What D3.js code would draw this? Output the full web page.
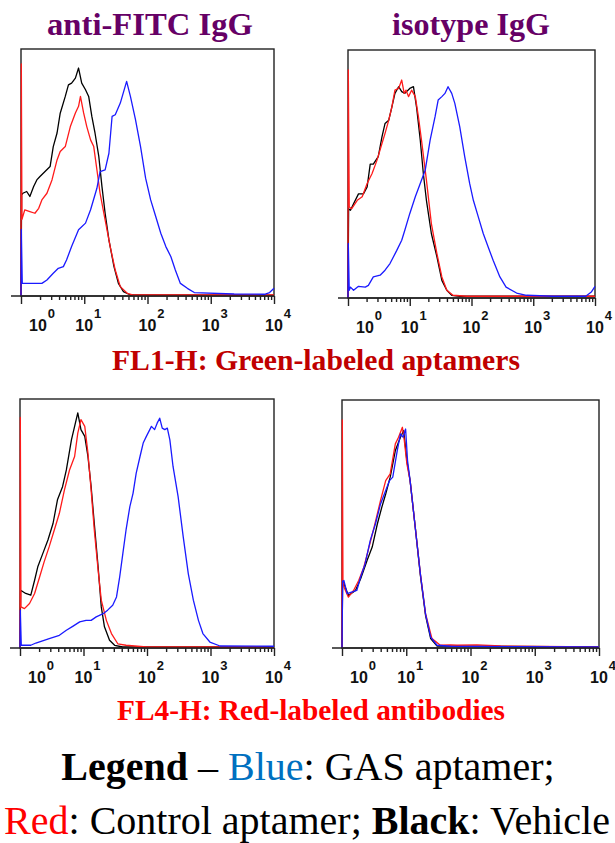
<!DOCTYPE html>
<html>
<head>
<meta charset="utf-8">
<script src="https://cdn.jsdelivr.net/npm/d3@7"></script>
<style>
  body { margin: 0; background: #fff; }
  svg { display: block; }
</style>
</head>
<body>
<svg id="bg" width="615" height="843"></svg>
<script>
// histogram traces: [log10 fluorescence, % of max counts]
var fitcFL1Black = [[0,0],[0.01,41],[0.03,41.6],[0.09,42.3],[0.14,40.3],[0.2,44.3],[0.25,47],[0.3,48.4],[0.38,50.4],[0.46,52.4],[0.51,60.5],[0.57,66],[0.62,74],[0.7,80.8],[0.75,85.5],[0.8,86.2],[0.86,88.2],[0.91,92.3],[0.96,86.2],[1.02,83.5],[1.07,80.8],[1.12,72.7],[1.17,66],[1.23,56.5],[1.28,44.3],[1.33,33.5],[1.39,22.7],[1.47,11.9],[1.54,5.1],[1.62,1.8],[1.73,0.4],[4,0.3]];
var fitcFL1Red = [[0,0],[0.005,94],[0.015,31],[0.06,34.9],[0.14,34.2],[0.22,33.5],[0.28,35.5],[0.33,38.9],[0.41,41.6],[0.49,47],[0.57,55.1],[0.62,58.5],[0.7,60.5],[0.78,68.6],[0.86,74.1],[0.91,76.8],[0.94,80.8],[0.99,74.1],[1.04,68.6],[1.1,63.2],[1.15,60.5],[1.2,51.1],[1.25,41.6],[1.33,30.8],[1.41,20],[1.49,10.5],[1.57,3.8],[1.68,1.1],[1.78,0.4],[4,0.4]];
var fitcFL1Blue = [[0,0],[0.005,27],[0.02,5.1],[0.06,5.1],[0.33,5.1],[0.41,6.5],[0.51,9.2],[0.59,11.2],[0.67,11.9],[0.72,14.6],[0.8,20],[0.91,26.8],[1.02,29.5],[1.1,34.9],[1.2,43.6],[1.25,50.4],[1.33,51.1],[1.39,57.8],[1.44,72.7],[1.49,73.4],[1.57,78.1],[1.67,86.9],[1.73,80.8],[1.81,71.4],[1.89,60.5],[1.97,47.7],[2.05,38.9],[2.13,32.2],[2.21,25.4],[2.29,20],[2.37,15.9],[2.44,10.5],[2.52,5.1],[2.63,3.1],[2.74,1.4],[3.37,0.8],[3.85,0.7],[3.93,1.4],[4,3.1]];

var isoFL1Black = [[0,0],[0.01,36],[0.04,35.4],[0.09,38],[0.17,42],[0.25,42],[0.31,44.8],[0.36,54],[0.41,54],[0.49,57],[0.55,65],[0.6,70.4],[0.66,71.7],[0.71,77],[0.76,82.5],[0.82,85.2],[0.87,83.2],[0.92,82.5],[1,84.5],[1.06,85.2],[1.11,77],[1.17,63.7],[1.22,50.2],[1.27,39.4],[1.35,26],[1.44,16.6],[1.52,7.1],[1.6,3.1],[1.68,1.1],[1.81,0.7],[4,0.7]];
var isoFL1Red = [[0,0],[0.005,92],[0.02,36.7],[0.06,36],[0.15,39.4],[0.23,40.8],[0.31,46.2],[0.39,50.2],[0.47,55.6],[0.55,62.3],[0.6,66.4],[0.66,71.7],[0.71,77],[0.76,83.8],[0.82,84.5],[0.87,87.9],[0.91,82.5],[0.94,83.8],[0.98,81.2],[1.03,83.8],[1.09,81.2],[1.14,73.1],[1.19,63.7],[1.27,47.5],[1.35,30],[1.44,17.9],[1.52,8.5],[1.6,3.1],[1.7,1.1],[1.92,0.7],[4,0.7]];
var isoFL1Blue = [[0,0],[0.005,22],[0.02,3.1],[0.04,4.4],[0.09,3.1],[0.17,4.7],[0.28,4.4],[0.33,5.1],[0.41,8.5],[0.52,9.2],[0.6,11.2],[0.68,13.9],[0.79,19.2],[0.87,23.3],[0.92,27.3],[1,34],[1.09,40.8],[1.17,46.2],[1.25,51.5],[1.33,63.7],[1.41,73.1],[1.46,79.8],[1.52,81.2],[1.57,82.5],[1.62,85.2],[1.68,82.5],[1.73,78.5],[1.81,69],[1.89,57],[1.97,46.2],[2.03,39.4],[2.11,32.7],[2.19,26],[2.27,20.6],[2.35,15.2],[2.46,8.5],[2.56,4.4],[2.73,2],[2.89,1.1],[3.32,0.7],[3.85,0.7],[3.94,2.4],[4,4.7]];

var fitcFL4Black = [[0,0],[0.01,23.2],[0.09,21.9],[0.17,21.2],[0.23,27.2],[0.28,32.6],[0.36,38],[0.44,43.4],[0.52,50],[0.59,59.5],[0.67,64.8],[0.73,71.5],[0.81,83.6],[0.86,89],[0.91,94.4],[0.96,87.7],[1.02,85],[1.07,76.9],[1.12,64.8],[1.17,50],[1.23,32.6],[1.28,16.5],[1.33,8.5],[1.41,3.1],[1.49,1.1],[1.62,0.4],[4,0.4]];
var fitcFL4Red = [[0,0],[0.005,92.6],[0.015,16.5],[0.07,15.8],[0.15,17.9],[0.23,21.9],[0.31,28.6],[0.38,34.6],[0.46,40.7],[0.54,47.4],[0.62,54.1],[0.7,63.5],[0.78,71.5],[0.86,76.9],[0.91,86.3],[0.96,91.7],[1.02,89],[1.07,78.3],[1.12,63.5],[1.17,47.4],[1.23,31.3],[1.28,19.2],[1.36,11.1],[1.44,5.8],[1.54,1.7],[1.67,1.1],[1.99,0.4],[4,0.4]];
var fitcFL4Blue = [[0,0],[0.005,15.2],[0.02,1.1],[0.07,1.1],[0.17,1.1],[0.25,2],[0.46,3.8],[0.62,5.1],[0.73,7.1],[0.83,8.7],[0.94,10.5],[1.04,11.1],[1.12,11.1],[1.2,12.5],[1.31,13.8],[1.38,15.2],[1.46,17.2],[1.52,20.5],[1.57,28.6],[1.62,38],[1.67,47.4],[1.73,56.8],[1.78,62.1],[1.83,70.2],[1.89,76.9],[1.94,82.3],[1.99,85],[2.07,89],[2.12,87.7],[2.16,90.3],[2.2,92.3],[2.24,88.3],[2.28,87.7],[2.32,88.3],[2.36,83.6],[2.41,72.9],[2.49,60.8],[2.57,44.7],[2.65,29.9],[2.73,19.2],[2.81,11.1],[2.88,5.8],[2.99,2.4],[3.15,0.8],[4,0.7]];

var isoFL4Black = [[0,0],[0.01,27],[0.03,25.9],[0.1,21.2],[0.21,23.2],[0.29,27.9],[0.39,35.3],[0.47,40.7],[0.55,50],[0.62,56.8],[0.68,62.1],[0.75,68.9],[0.83,79.6],[0.91,85],[0.96,87.7],[1.01,75.6],[1.06,67.5],[1.14,48.7],[1.22,29.3],[1.3,13.2],[1.38,3.8],[1.48,0.8],[4,0.4]];
var isoFL4Red = [[0,0],[0.005,92],[0.015,27],[0.03,24.6],[0.1,20.5],[0.18,23.2],[0.26,27.2],[0.34,32.6],[0.42,40.7],[0.5,48.7],[0.6,59.5],[0.68,67.5],[0.75,70.2],[0.83,82.3],[0.88,85],[0.94,89],[0.97,83.6],[1.01,74.2],[1.06,67.5],[1.14,48.7],[1.22,29.9],[1.3,13.8],[1.4,3.8],[1.53,1.1],[1.69,1.3],[1.79,1.1],[2.1,1.3],[2.47,0.8],[4,0.4]];
var isoFL4Blue = [[0,0],[0.01,27],[0.03,27.2],[0.08,21.9],[0.16,22.6],[0.23,23.2],[0.29,28.6],[0.36,34],[0.44,43.4],[0.52,50],[0.6,58.1],[0.68,63.5],[0.74,67.5],[0.79,68.9],[0.86,79.6],[0.91,86.3],[0.95,85],[0.99,88.3],[1.02,75.6],[1.06,67.5],[1.14,48.7],[1.22,29.9],[1.3,13.8],[1.38,4.4],[1.48,1.1],[1.69,0.7],[4,0.4]];

var decades = [0, 1, 2, 3, 4];
var columnTitles = ['anti-FITC IgG', 'isotype IgG'];
var rowTitles = ['FL1-H: Green-labeled aptamers', 'FL4-H: Red-labeled antibodies'];

var svg = d3.select('#bg');

var panels = [
  {x0: 21, x1: 274, y0: 49, y1: 296, series: [fitcFL1Black, fitcFL1Red, fitcFL1Blue]},
  {x0: 348, x1: 595, y0: 50, y1: 298, series: [isoFL1Black, isoFL1Red, isoFL1Blue]},
  {x0: 20, x1: 274, y0: 399, y1: 648, series: [fitcFL4Black, fitcFL4Red, fitcFL4Blue]},
  {x0: 342, x1: 599, y0: 400, y1: 648, series: [isoFL4Black, isoFL4Red, isoFL4Blue]}
];
var colors = ['#000000', '#ff1a1a', '#1a1aff'];

panels.forEach(function(p) {
  var g = svg.append('g');
  var xScale = d3.scaleLog().domain([1, 1e4]).range([p.x0, p.x1]);
  var yScale = d3.scaleLinear().domain([0, 100]).range([p.y1, p.y0]);

  // frame
  g.append('rect')
    .attr('x', p.x0).attr('y', p.y0)
    .attr('width', p.x1 - p.x0).attr('height', p.y1 - p.y0)
    .attr('fill', 'none').attr('stroke', '#222').attr('stroke-width', 1.4);

  // curves
  var line = d3.line()
    .x(function(d) { return xScale(Math.pow(10, d[0])); })
    .y(function(d) { return yScale(d[1]); });
  p.series.forEach(function(s, i) {
    g.append('path')
      .datum(s)
      .attr('fill', 'none')
      .attr('stroke', colors[i])
      .attr('stroke-width', 1.3)
      .attr('stroke-linejoin', 'round')
      .attr('d', line);
  });

  // axis baseline, runs a bit left of the frame
  g.append('line')
    .attr('x1', p.x0 - 10).attr('x2', p.x1)
    .attr('y1', p.y1).attr('y2', p.y1)
    .attr('stroke', '#222').attr('stroke-width', 1.4);

  var minor = xScale.ticks().filter(function(v) {
    return Math.abs(Math.log10(v) - Math.round(Math.log10(v))) > 1e-6;
  });
  var major = decades.map(function(d) { return Math.pow(10, d); });

  var axMinor = g.append('g')
    .attr('transform', 'translate(0,' + p.y1 + ')')
    .call(d3.axisBottom(xScale).tickValues(minor).tickSize(4).tickFormat(''));
  var axMajor = g.append('g')
    .attr('transform', 'translate(0,' + p.y1 + ')')
    .call(d3.axisBottom(xScale).tickValues(major).tickSize(8).tickFormat(''));
  [axMinor, axMajor].forEach(function(a) {
    a.select('.domain').remove();
    a.selectAll('line').attr('stroke', '#222').attr('stroke-width', 1.4);
  });

  // decade labels 10^n ("10" centred on the tick, first one pushed right)
  decades.forEach(function(d) {
    var tx = xScale(Math.pow(10, d)) + (d === 0 ? 17 : 0) - 9;
    var t = g.append('text')
      .attr('x', tx)
      .attr('y', p.y1 + 35)
      .attr('font-family', 'Liberation Sans, Arial, sans-serif')
      .attr('font-weight', 'bold')
      .attr('font-size', 16)
      .attr('fill', '#111');
    t.append('tspan').text('10');
    t.append('tspan')
      .attr('dx', 1).attr('dy', -13)
      .attr('font-size', 13)
      .text(d);
  });
});

// column titles
var titleX = [150, 471];
var titleW = [206, 158];
columnTitles.forEach(function(t, i) {
  svg.append('text')
    .attr('x', titleX[i]).attr('y', 35)
    .attr('text-anchor', 'middle')
    .attr('font-family', 'Liberation Serif, Times New Roman, serif')
    .attr('font-weight', 'bold')
    .attr('font-size', 31)
    .attr('fill', '#660066')
    .attr('textLength', titleW[i])
    .attr('lengthAdjust', 'spacingAndGlyphs')
    .text(t);
});

// row captions
svg.append('text')
  .attr('x', 316).attr('y', 370)
  .attr('text-anchor', 'middle')
  .attr('font-family', 'Liberation Serif, Times New Roman, serif')
  .attr('font-weight', 'bold')
  .attr('font-size', 30)
  .attr('fill', '#c00000')
  .attr('textLength', 408)
  .attr('lengthAdjust', 'spacingAndGlyphs')
  .text(rowTitles[0]);

svg.append('text')
  .attr('x', 311).attr('y', 720)
  .attr('text-anchor', 'middle')
  .attr('font-family', 'Liberation Serif, Times New Roman, serif')
  .attr('font-weight', 'bold')
  .attr('font-size', 30)
  .attr('fill', '#ff0000')
  .attr('textLength', 388)
  .attr('lengthAdjust', 'spacingAndGlyphs')
  .text(rowTitles[1]);

// legend
var leg1 = svg.append('text')
  .attr('x', 308).attr('y', 780)
  .attr('text-anchor', 'middle')
  .attr('font-family', 'Liberation Serif, Times New Roman, serif')
  .attr('font-size', 40)
  .attr('fill', '#000');
leg1.append('tspan').attr('font-weight', 'bold').text('Legend');
leg1.append('tspan').text(' \u2013 ');
leg1.append('tspan').attr('fill', '#0070c0').text('Blue');
leg1.append('tspan').text(': GAS aptamer;');

var leg2 = svg.append('text')
  .attr('x', 307).attr('y', 834)
  .attr('text-anchor', 'middle')
  .attr('font-family', 'Liberation Serif, Times New Roman, serif')
  .attr('font-size', 40)
  .attr('fill', '#000');
leg2.append('tspan').attr('fill', '#ff0000').text('Red');
leg2.append('tspan').text(': Control aptamer; ');
leg2.append('tspan').attr('font-weight', 'bold').text('Black');
leg2.append('tspan').text(': Vehicle');
</script>
</body>
</html>
